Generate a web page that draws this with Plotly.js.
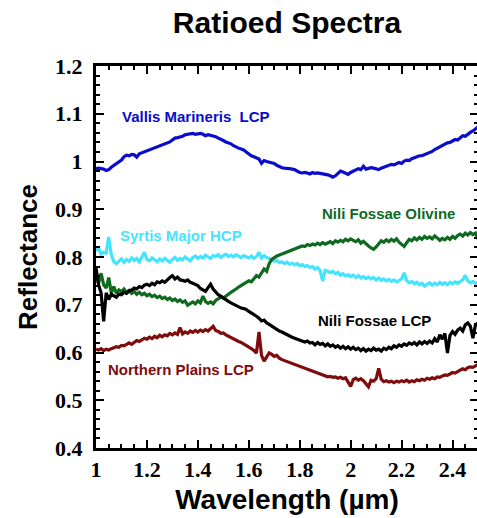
<!DOCTYPE html>
<html>
<head>
<meta charset="utf-8">
<script src="https://cdn.plot.ly/plotly-3.0.1.min.js"></script>
<style>html,body{margin:0;padding:0;overflow:hidden;background:#fff;}#chart{width:482px;height:518px;}</style>
</head>
<body>
<div id="chart"></div>
<script>
const wavelength = [1.00,1.01,1.02,1.03,1.04,1.05,1.06,1.07,1.08,1.09,1.10,1.11,1.12,1.13,1.14,1.15,1.16,1.17,1.18,1.19,1.20,1.21,1.22,1.23,1.24,1.25,1.26,1.27,1.28,1.29,1.30,1.31,1.32,1.33,1.34,1.35,1.36,1.37,1.38,1.39,1.40,1.41,1.42,1.43,1.44,1.45,1.46,1.47,1.48,1.49,1.50,1.51,1.52,1.53,1.54,1.55,1.56,1.57,1.58,1.59,1.60,1.61,1.62,1.63,1.64,1.65,1.66,1.67,1.68,1.69,1.70,1.71,1.72,1.73,1.74,1.75,1.76,1.77,1.78,1.79,1.80,1.81,1.82,1.83,1.84,1.85,1.86,1.87,1.88,1.89,1.90,1.91,1.92,1.93,1.94,1.95,1.96,1.97,1.98,1.99,2.00,2.01,2.02,2.03,2.04,2.05,2.06,2.07,2.08,2.09,2.10,2.11,2.12,2.13,2.14,2.15,2.16,2.17,2.18,2.19,2.20,2.21,2.22,2.23,2.24,2.25,2.26,2.27,2.28,2.29,2.30,2.31,2.32,2.33,2.34,2.35,2.36,2.37,2.38,2.39,2.40,2.41,2.42,2.43,2.44,2.45,2.46,2.47,2.48,2.49,2.50];

const vallisMarinerisLCP = [0.985,0.986,0.985,0.984,0.981,0.983,0.988,0.992,0.995,0.998,1.003,1.010,1.013,1.012,1.015,1.014,1.009,1.016,1.018,1.020,1.023,1.025,1.027,1.029,1.030,1.033,1.034,1.037,1.039,1.041,1.045,1.049,1.050,1.051,1.053,1.056,1.057,1.058,1.059,1.057,1.058,1.059,1.057,1.054,1.056,1.055,1.054,1.052,1.049,1.047,1.044,1.041,1.039,1.037,1.033,1.030,1.028,1.026,1.024,1.020,1.015,1.012,1.010,1.007,1.005,0.996,1.002,1.000,0.999,0.998,0.996,0.992,0.989,0.987,0.986,0.986,0.985,0.984,0.983,0.980,0.977,0.976,0.977,0.976,0.974,0.977,0.975,0.976,0.975,0.974,0.974,0.972,0.970,0.967,0.970,0.976,0.980,0.978,0.975,0.973,0.977,0.980,0.982,0.985,0.983,0.990,0.984,0.986,0.987,0.986,0.985,0.983,0.986,0.988,0.990,0.991,0.994,0.993,0.996,0.998,0.996,1.001,1.003,1.002,1.006,1.008,1.009,1.012,1.012,1.014,1.016,1.018,1.021,1.025,1.028,1.030,1.034,1.037,1.039,1.040,1.044,1.046,1.045,1.050,1.054,1.053,1.058,1.061,1.064,1.069,1.072];

const syrtisMajorHCP = [0.813,0.818,0.806,0.810,0.808,0.842,0.805,0.790,0.786,0.792,0.796,0.789,0.795,0.791,0.798,0.793,0.797,0.790,0.799,0.810,0.795,0.792,0.798,0.794,0.790,0.796,0.792,0.797,0.793,0.789,0.795,0.799,0.793,0.797,0.794,0.800,0.796,0.792,0.799,0.802,0.797,0.801,0.798,0.804,0.800,0.797,0.803,0.801,0.805,0.799,0.803,0.806,0.801,0.804,0.800,0.805,0.802,0.799,0.803,0.800,0.798,0.802,0.797,0.801,0.810,0.798,0.803,0.799,0.796,0.794,0.791,0.793,0.788,0.790,0.786,0.789,0.785,0.787,0.784,0.786,0.782,0.784,0.780,0.782,0.778,0.780,0.775,0.778,0.772,0.750,0.772,0.770,0.767,0.770,0.765,0.768,0.762,0.765,0.760,0.763,0.759,0.762,0.757,0.761,0.756,0.759,0.755,0.758,0.754,0.757,0.752,0.756,0.751,0.754,0.750,0.753,0.749,0.752,0.748,0.751,0.754,0.767,0.750,0.746,0.749,0.744,0.747,0.742,0.745,0.739,0.743,0.746,0.741,0.745,0.742,0.747,0.743,0.746,0.742,0.747,0.744,0.748,0.745,0.749,0.752,0.762,0.750,0.746,0.749,0.745,0.747];

const niliFossaeOlivine = [0.764,0.745,0.766,0.742,0.735,0.757,0.725,0.738,0.724,0.731,0.727,0.733,0.726,0.730,0.724,0.728,0.722,0.726,0.721,0.724,0.719,0.722,0.717,0.720,0.715,0.718,0.713,0.716,0.711,0.714,0.709,0.712,0.707,0.710,0.705,0.708,0.699,0.703,0.706,0.702,0.708,0.704,0.718,0.707,0.703,0.706,0.702,0.709,0.712,0.716,0.714,0.719,0.722,0.726,0.729,0.733,0.737,0.740,0.743,0.747,0.750,0.748,0.755,0.761,0.758,0.768,0.775,0.770,0.786,0.795,0.799,0.802,0.804,0.806,0.808,0.810,0.813,0.815,0.816,0.819,0.821,0.823,0.822,0.826,0.824,0.827,0.825,0.829,0.826,0.830,0.827,0.829,0.832,0.828,0.834,0.831,0.835,0.832,0.837,0.834,0.838,0.835,0.832,0.836,0.829,0.833,0.827,0.823,0.819,0.816,0.821,0.828,0.834,0.831,0.836,0.832,0.837,0.833,0.838,0.831,0.826,0.822,0.830,0.837,0.834,0.840,0.836,0.841,0.837,0.843,0.839,0.842,0.838,0.844,0.840,0.835,0.839,0.836,0.841,0.837,0.843,0.839,0.845,0.848,0.844,0.850,0.846,0.851,0.847,0.850,0.838];

const niliFossaeLCP = [0.777,0.742,0.725,0.665,0.725,0.711,0.722,0.718,0.716,0.722,0.721,0.726,0.724,0.729,0.731,0.735,0.733,0.738,0.736,0.741,0.743,0.740,0.745,0.742,0.748,0.746,0.750,0.747,0.753,0.757,0.761,0.754,0.758,0.752,0.751,0.749,0.752,0.747,0.745,0.743,0.740,0.734,0.731,0.728,0.736,0.743,0.733,0.726,0.721,0.718,0.714,0.711,0.707,0.704,0.701,0.699,0.696,0.693,0.692,0.690,0.686,0.683,0.680,0.676,0.672,0.666,0.668,0.662,0.659,0.655,0.652,0.648,0.645,0.643,0.640,0.637,0.635,0.632,0.630,0.628,0.626,0.625,0.622,0.624,0.620,0.621,0.616,0.621,0.617,0.619,0.614,0.618,0.613,0.616,0.611,0.614,0.609,0.613,0.608,0.612,0.607,0.611,0.606,0.609,0.604,0.608,0.603,0.607,0.604,0.609,0.605,0.607,0.603,0.609,0.606,0.611,0.608,0.614,0.611,0.616,0.613,0.618,0.615,0.620,0.617,0.621,0.616,0.622,0.618,0.623,0.619,0.624,0.620,0.629,0.622,0.637,0.628,0.640,0.599,0.636,0.644,0.638,0.647,0.651,0.645,0.658,0.662,0.655,0.630,0.658,0.662];

const northernPlainsLCP = [0.607,0.605,0.608,0.604,0.607,0.605,0.608,0.610,0.612,0.611,0.615,0.614,0.618,0.620,0.617,0.622,0.625,0.623,0.627,0.630,0.628,0.632,0.629,0.634,0.631,0.636,0.633,0.637,0.635,0.640,0.637,0.641,0.638,0.652,0.639,0.643,0.640,0.645,0.642,0.646,0.643,0.647,0.644,0.648,0.645,0.650,0.655,0.646,0.644,0.640,0.641,0.637,0.634,0.631,0.628,0.626,0.623,0.621,0.618,0.615,0.612,0.608,0.604,0.599,0.643,0.594,0.582,0.592,0.599,0.596,0.592,0.594,0.588,0.585,0.583,0.580,0.578,0.576,0.574,0.572,0.570,0.568,0.566,0.564,0.562,0.560,0.558,0.556,0.555,0.552,0.551,0.549,0.550,0.548,0.549,0.546,0.548,0.545,0.547,0.538,0.529,0.543,0.546,0.542,0.545,0.541,0.535,0.528,0.542,0.540,0.545,0.567,0.544,0.539,0.541,0.538,0.540,0.537,0.540,0.538,0.541,0.539,0.542,0.538,0.541,0.539,0.543,0.541,0.544,0.542,0.546,0.544,0.547,0.545,0.549,0.548,0.551,0.553,0.552,0.556,0.558,0.557,0.561,0.563,0.566,0.564,0.568,0.570,0.569,0.573,0.575];

const seriesNames = ["Vallis Marineris&nbsp; LCP","Syrtis Major HCP","Nili Fossae Olivine","Nili Fossae LCP","Northern Plains LCP"];
const seriesValues = [vallisMarinerisLCP, syrtisMajorHCP, niliFossaeOlivine, niliFossaeLCP, northernPlainsLCP];
const seriesColors = ["#0a0ccc","#44e4ff","#0f6a1f","#000000","#7e0c0c"];
const labelPos = [[1.094,1.095],[1.086,0.844],[1.878,0.892],[1.863,0.666],[1.039,0.565]];

const traces = seriesValues.map((v,i)=>({
  x: wavelength, y: v, type:'scatter', mode:'lines',
  line:{color:seriesColors[i], width:3.2}, hoverinfo:'skip', showlegend:false
}));

const sansBold = '"Liberation Sans", Arial, sans-serif';
const annotations = seriesNames.map((n,i)=>({
  x: labelPos[i][0], y: labelPos[i][1], xref:'x', yref:'y', text:n, showarrow:false,
  xanchor:'left', yanchor:'middle',
  font:{family:sansBold, size:15, color:seriesColors[i], weight:'bold'}
}));

const tickFont = {family:'"Liberation Serif", "Times New Roman", Times, serif', size:22, color:'#000', weight:'bold'};
const axisCommon = {
  showline:true, linecolor:'#000', linewidth:3, mirror:'ticks',
  ticks:'inside', ticklen:8, tickwidth:2, tickcolor:'#000',
  showgrid:false, zeroline:false, tickfont:tickFont
};

const layout = {
  width:482, height:518,
  margin:{l:96, r:4, t:66, b:70},
  paper_bgcolor:'#fff', plot_bgcolor:'#fff',
  title:{text:'Ratioed Spectra', x:0.5, xref:'paper', y:0.957, yanchor:'middle',
    font:{family:sansBold, size:30, color:'#000', weight:'bold'}},
  xaxis:Object.assign({}, axisCommon, {
    range:[1,2.5], dtick:0.2, tick0:1,
    minor:{dtick:0.05, ticks:'inside', ticklen:4, tickwidth:2, tickcolor:'#000'},
    ticklabelstandoff:0,
    title:{text:'Wavelength (µm)', standoff:8,
      font:{family:sansBold, size:28, color:'#000', weight:'bold'}}
  }),
  yaxis:Object.assign({}, axisCommon, {
    range:[0.4,1.2], dtick:0.1, tick0:0.4,
    minor:{dtick:0.02, ticks:'inside', ticklen:4, tickwidth:2, tickcolor:'#000'},
    ticklabelstandoff:6,
    title:{text:'Reflectance', standoff:10,
      font:{family:sansBold, size:26, color:'#000', weight:'bold'}}
  }),
  annotations: annotations
};

Plotly.newPlot('chart', traces, layout, {displayModeBar:false, staticPlot:true});
</script>
</body>
</html>
